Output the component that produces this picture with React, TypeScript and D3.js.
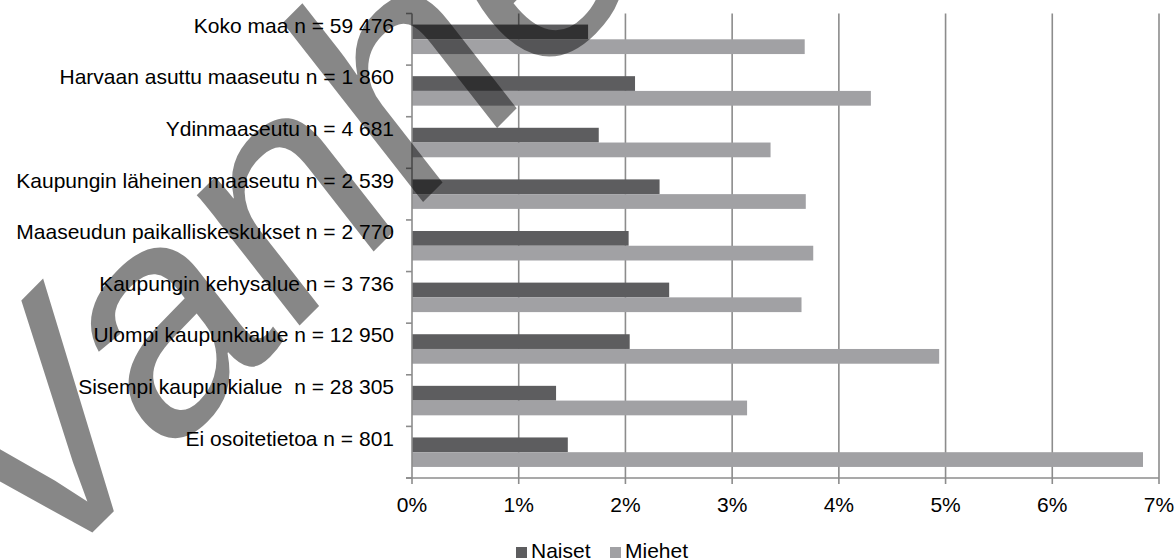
import React from "react";
import * as d3 from "d3";

const categories = [
  "Koko maa n = 59 476",
  "Harvaan asuttu maaseutu n = 1 860",
  "Ydinmaaseutu n = 4 681",
  "Kaupungin läheinen maaseutu n = 2 539",
  "Maaseudun paikalliskeskukset n = 2 770",
  "Kaupungin kehysalue n = 3 736",
  "Ulompi kaupunkialue n = 12 950",
  "Sisempi kaupunkialue  n = 28 305",
  "Ei osoitetietoa n = 801",
];
const series = ["Naiset", "Miehet"];
const naiset = [1.65, 2.09, 1.75, 2.32, 2.03, 2.41, 2.04, 1.35, 1.46];
const miehet = [3.68, 4.3, 3.36, 3.69, 3.76, 3.65, 4.94, 3.14, 6.85];
const xTicks = [0, 1, 2, 3, 4, 5, 6, 7];
const colors = ["#5d5d5f", "#a1a1a4"];
const watermark = "Vanhentunut";

const W = 1175;
const H = 559;
const FONT = "'Liberation Sans', Arial, sans-serif";

export default function App() {
  const x = d3.scaleLinear().domain([0, 7]).range([412, 1159]);
  const y = d3.scaleBand<string>().domain(categories).range([13.5, 478]);
  const sub = d3
    .scaleBand<string>()
    .domain(series)
    .range([0, y.bandwidth()])
    .paddingInner(0)
    .paddingOuter(0.75);
  const values = [naiset, miehet];
  const top = y.range()[0];
  const bottom = y.range()[1];
  const boundaries = categories.map((c) => y(c) as number).concat([bottom]);

  // skewed watermark transform: baseline at -45°, glyph verticals at ~52°
  const wmFont = 314;
  const bx = Math.SQRT1_2, by = -Math.SQRT1_2;
  const vx = 0.616, vy = 0.788;
  const vertex: [number, number] = [103, 522];
  const ox = vertex[0] - 0.333 * wmFont * bx;
  const oy = vertex[1] - 0.333 * wmFont * by;

  return (
    <svg
      width={W}
      height={H}
      style={{ position: "absolute", left: 0, top: 0, background: "#fff" }}
      fontFamily={FONT}
    >
      <rect width={W} height={H} fill="#fff" />
      {xTicks.slice(1).map((t) => (
        <line
          key={"g" + t}
          x1={x(t)}
          x2={x(t)}
          y1={top}
          y2={bottom}
          stroke="#8c8c8c"
          strokeWidth={1.6}
        />
      ))}
      {series.map((s, si) =>
        categories.map((c, ci) => (
          <rect
            key={s + c}
            x={x(0)}
            y={(y(c) as number) + (sub(s) as number)}
            width={x(values[si][ci]) - x(0)}
            height={sub.bandwidth()}
            fill={colors[si]}
          />
        ))
      )}
      <line x1={x(0)} x2={x(0)} y1={top} y2={bottom} stroke="#8c8c8c" strokeWidth={1.6} />
      <line x1={x(0) - 6} x2={x(7)} y1={bottom} y2={bottom} stroke="#8c8c8c" strokeWidth={1.6} />
      {boundaries.map((b, i) => (
        <line key={"lt" + i} x1={x(0) - 6} x2={x(0)} y1={b} y2={b} stroke="#8c8c8c" strokeWidth={1.6} />
      ))}
      {xTicks.map((t) => (
        <line key={"bt" + t} x1={x(t)} x2={x(t)} y1={bottom} y2={bottom + 6} stroke="#8c8c8c" strokeWidth={1.6} />
      ))}
      {xTicks.map((t) => (
        <text key={"tl" + t} x={x(t)} y={bottom + 34} fontSize={21} textAnchor="middle" fill="#000">
          {t + "%"}
        </text>
      ))}
      {categories.map((c) => (
        <text
          key={"cl" + c}
          x={x(0) - 18}
          y={(y(c) as number) + y.bandwidth() / 2 - 6.5}
          fontSize={21}
          textAnchor="end"
          fill="#000"
          style={{ whiteSpace: "pre" }}
        >
          {c}
        </text>
      ))}
      <g>
        <rect x={516} y={547} width={11} height={11} fill={colors[0]} />
        <text x={531} y={558} fontSize={21} fill="#000">{series[0]}</text>
        <rect x={610} y={547} width={11} height={11} fill={colors[1]} />
        <text x={625} y={558} fontSize={21} fill="#000">{series[1]}</text>
      </g>
      <text
        transform={`matrix(${bx},${by},${vx},${vy},${ox},${oy})`}
        fontSize={wmFont}
        fill="#000"
        fillOpacity={0.47}
      >
        {watermark}
      </text>
    </svg>
  );
}
